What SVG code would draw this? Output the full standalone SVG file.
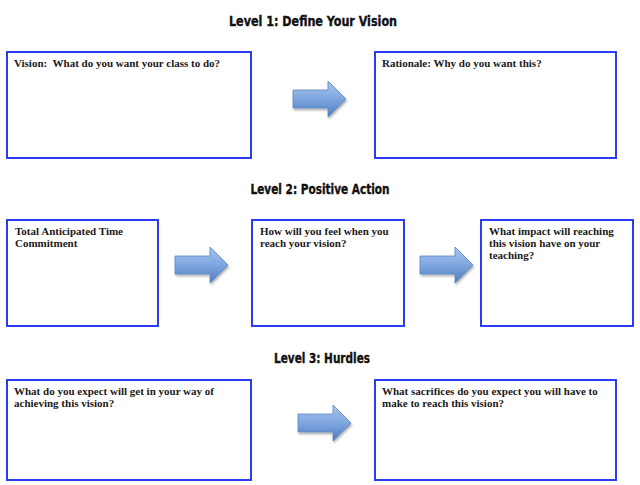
<svg xmlns="http://www.w3.org/2000/svg" width="640" height="485" viewBox="0 0 640 485">
<defs>
<style>
.title{font-family:"Liberation Sans Narrow","DejaVu Sans Condensed","Liberation Sans",sans-serif;font-weight:bold;font-size:14px;fill:#111;stroke:#111;stroke-width:0.35}
.box{fill:#fff;stroke:#2b3df2;stroke-width:2}
.lbl{font-family:"Liberation Serif","DejaVu Serif",serif;font-weight:bold;font-size:11px;fill:#1a1a1a;white-space:pre}
.arrow{fill:url(#ag);stroke:#5d86c0;stroke-width:0.8;filter:url(#sh)}
</style>
<linearGradient id="ag" x1="0" y1="0" x2="0" y2="1">
<stop offset="0" stop-color="#a9c6ee"/>
<stop offset="0.5" stop-color="#7ea6df"/>
<stop offset="1" stop-color="#4d7cc4"/>
</linearGradient>
<filter id="sh" x="-20%" y="-20%" width="150%" height="160%">
<feDropShadow dx="1" dy="2" stdDeviation="1.2" flood-color="#000" flood-opacity="0.3"/>
</filter>
<path id="arr" d="M0,9 H35 V0 L53,18 L35,36 V27 H0 Z"/>
</defs>
<rect width="640" height="485" fill="#fff"/>

<text class="title" x="313" y="26" text-anchor="middle" textLength="168" lengthAdjust="spacingAndGlyphs">Level 1: Define Your Vision</text>
<text class="title" x="320" y="194" text-anchor="middle" textLength="139" lengthAdjust="spacingAndGlyphs">Level 2: Positive Action</text>
<text class="title" x="322" y="363" text-anchor="middle" textLength="96" lengthAdjust="spacingAndGlyphs">Level 3: Hurdles</text>

<g id="connectors">
<use href="#arr" class="arrow" x="293" y="81"/>
<use href="#arr" class="arrow" x="175" y="247"/>
<use href="#arr" class="arrow" x="420" y="247"/>
<use href="#arr" class="arrow" x="298" y="405"/>
</g>

<g id="vision">
<rect class="box" x="7" y="52" width="244" height="106"/>
<text class="lbl" x="14" y="67" xml:space="preserve">Vision:  What do you want your class to do?</text>
</g>
<g id="rationale">
<rect class="box" x="375" y="52" width="241" height="106"/>
<text class="lbl" x="382" y="67">Rationale: Why do you want this?</text>
</g>

<g id="time">
<rect class="box" x="7" y="220" width="151" height="106"/>
<text class="lbl" x="15" y="235">Total Anticipated Time</text>
<text class="lbl" x="15" y="247">Commitment</text>
</g>
<g id="feel">
<rect class="box" x="252" y="220" width="152" height="106"/>
<text class="lbl" x="260" y="235">How will you feel when you</text>
<text class="lbl" x="260" y="247">reach your vision?</text>
</g>
<g id="impact">
<rect class="box" x="481" y="220" width="152" height="106"/>
<text class="lbl" x="489" y="235">What impact will reaching</text>
<text class="lbl" x="489" y="247">this vision have on your</text>
<text class="lbl" x="489" y="259">teaching?</text>
</g>

<g id="hurdles">
<rect class="box" x="7" y="380" width="244" height="100"/>
<text class="lbl" x="14" y="395">What do you expect will get in your way of</text>
<text class="lbl" x="14" y="407">achieving this vision?</text>
</g>
<g id="sacrifices">
<rect class="box" x="375" y="380" width="241" height="100"/>
<text class="lbl" x="382" y="395">What sacrifices do you expect you will have to</text>
<text class="lbl" x="382" y="407">make to reach this vision?</text>
</g>
</svg>
